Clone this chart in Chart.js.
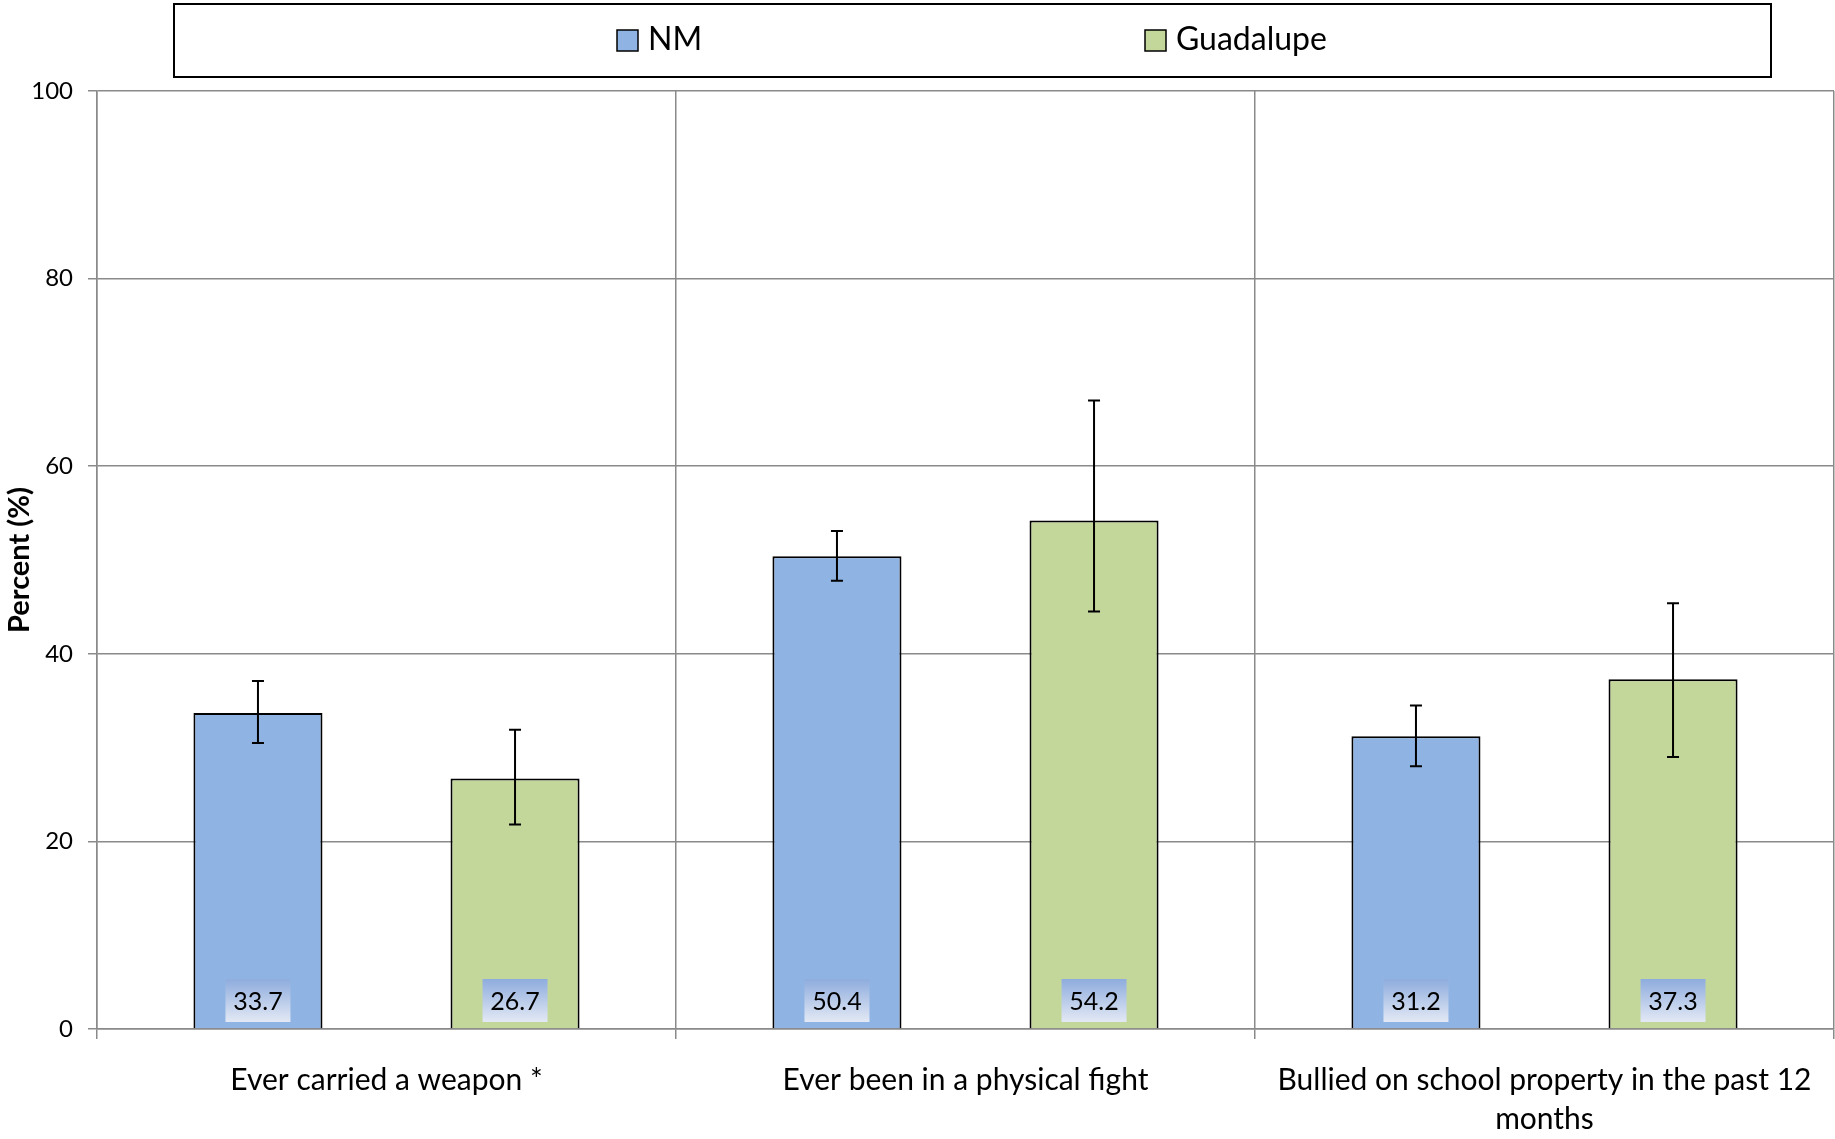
<!DOCTYPE html>
<html>
<head>
<meta charset="utf-8">
<script src="https://cdn.jsdelivr.net/npm/chart.js@4"></script>
<style>
  html, body { margin: 0; padding: 0; background: #fff; }
  #wrap { width: 1835px; height: 1139px; position: relative; }
</style>
</head>
<body>
<div id="wrap"><canvas id="riskGraph"></canvas></div>
<script>
const categories = [
    "Ever carried a weapon *",
    "Ever been in a physical fight",
    ["Bullied on school property in the past 12", "months"]
];

const nmValues = [33.7, 50.4, 31.2];
const nmLower = [30.5, 47.8, 28.0];
const nmUpper = [37.1, 53.1, 34.5];

const guadValues = [26.7, 54.2, 37.3];
const guadLower = [21.8, 44.5, 29.0];
const guadUpper = [31.9, 67.0, 45.4];

const yTicks = [0, 20, 40, 60, 80, 100];

const fontName = "Lato, 'Open Sans', sans-serif";
const gridGray = "#8a8a8a";

// error bars from the lower / upper arrays
const errorBars = {
    id: "errorBars",
    afterDatasetsDraw(chart) {
        const ctx = chart.ctx;
        const y = chart.scales.y;
        ctx.save();
        ctx.strokeStyle = "#000";
        ctx.lineWidth = 2;
        chart.data.datasets.forEach((ds, i) => {
            const meta = chart.getDatasetMeta(i);
            meta.data.forEach((bar, j) => {
                const top = y.getPixelForValue(ds.upper[j]);
                const bot = y.getPixelForValue(ds.lower[j]);
                ctx.beginPath();
                ctx.moveTo(bar.x, top);
                ctx.lineTo(bar.x, bot);
                ctx.moveTo(bar.x - 6, top);
                ctx.lineTo(bar.x + 6, top);
                ctx.moveTo(bar.x - 6, bot);
                ctx.lineTo(bar.x + 6, bot);
                ctx.stroke();
            });
        });
        ctx.restore();
    }
};

// value boxes at the foot of each bar
const valueBoxes = {
    id: "valueBoxes",
    afterDatasetsDraw(chart) {
        const ctx = chart.ctx;
        const base = chart.scales.y.getPixelForValue(0);
        ctx.save();
        chart.data.datasets.forEach((ds, i) => {
            chart.getDatasetMeta(i).data.forEach((bar, j) => {
                const w = 65, h = 43;
                const x0 = bar.x - w / 2;
                const y0 = base - 7 - h;
                const g = ctx.createLinearGradient(0, y0, 0, y0 + h);
                g.addColorStop(0, "#8eacdd");
                g.addColorStop(1, "#e3e9f5");
                ctx.fillStyle = g;
                ctx.fillRect(x0, y0, w, h);
                ctx.fillStyle = "#000";
                ctx.font = "25px " + fontName;
                ctx.textAlign = "center";
                ctx.textBaseline = "middle";
                ctx.fillText(ds.data[j].toFixed(1), bar.x, y0 + h / 2 + 1);
            });
        });
        ctx.restore();
    }
};

// boxed legend across the top
const boxLegend = {
    id: "boxLegend",
    afterDraw(chart) {
        const ctx = chart.ctx;
        const itemX = [617, 1145];
        ctx.save();
        ctx.strokeStyle = "#000";
        ctx.lineWidth = 2;
        ctx.strokeRect(174, 4, 1597, 73);
        chart.data.datasets.forEach((ds, i) => {
            ctx.fillStyle = ds.backgroundColor;
            ctx.fillRect(itemX[i], 30, 21, 21);
            ctx.lineWidth = 1.5;
            ctx.strokeRect(itemX[i], 30, 21, 21);
            ctx.fillStyle = "#000";
            ctx.font = "32px " + fontName;
            ctx.textAlign = "left";
            ctx.textBaseline = "middle";
            ctx.fillText(ds.label, itemX[i] + 31, 40);
        });
        ctx.restore();
    }
};

new Chart(document.getElementById("riskGraph"), {
    type: "bar",
    data: {
        labels: categories,
        datasets: [{
            label: "NM",
            data: nmValues,
            lower: nmLower,
            upper: nmUpper,
            backgroundColor: "#8fb4e3",
            borderColor: "#000",
            borderWidth: 2,
            categoryPercentage: 0.888,
            barPercentage: 0.502
        }, {
            label: "Guadalupe",
            data: guadValues,
            lower: guadLower,
            upper: guadUpper,
            backgroundColor: "#c4d79b",
            borderColor: "#000",
            borderWidth: 2,
            categoryPercentage: 0.888,
            barPercentage: 0.502
        }]
    },
    options: {
        responsive: true,
        maintainAspectRatio: false,
        animation: false,
        layout: { padding: { top: 91, left: 2, right: 1, bottom: 0 } },
        plugins: {
            legend: { display: false },
            tooltip: { enabled: false }
        },
        scales: {
            x: {
                afterFit(axis) { axis.height = 110; },
                grid: { color: gridGray, lineWidth: 1.5, tickLength: 10, offset: true },
                border: { color: gridGray, width: 1.5 },
                ticks: {
                    color: "#000",
                    font: { family: fontName, size: 30, lineHeight: 1.3 },
                    padding: 22,
                    maxRotation: 0,
                    autoSkip: false
                }
            },
            y: {
                min: 0,
                max: 100,
                afterBuildTicks(axis) { axis.ticks = yTicks.map(v => ({ value: v })); },
                afterFit(axis) { axis.width = 95; },
                grid: { color: gridGray, lineWidth: 1.5, tickLength: 9 },
                border: { color: gridGray, width: 1.5 },
                ticks: {
                    color: "#000",
                    font: { family: fontName, size: 24 },
                    padding: 15
                },
                title: {
                    display: true,
                    text: "Percent (%)",
                    color: "#000",
                    font: { family: fontName, size: 29, weight: "bold" },
                    padding: { top: 0, bottom: 0 }
                }
            }
        }
    },
    plugins: [errorBars, valueBoxes, boxLegend]
});
</script>
</body>
</html>
